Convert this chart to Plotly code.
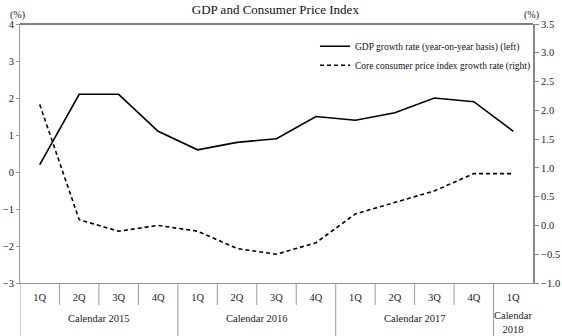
import plotly.graph_objects as go

quarters = ["1Q", "2Q", "3Q", "4Q", "1Q", "2Q", "3Q", "4Q", "1Q", "2Q", "3Q", "4Q", "1Q"]
years = ["Calendar 2015", "Calendar 2016", "Calendar 2017", "Calendar<br>2018"]
year_len = [4, 4, 4, 1]
gdp = [0.2, 2.1, 2.1, 1.1, 0.6, 0.8, 0.9, 1.5, 1.4, 1.6, 2.0, 1.9, 1.1]
cpi = [2.1, 0.1, -0.1, 0.0, -0.1, -0.4, -0.5, -0.3, 0.2, 0.4, 0.6, 0.9, 0.9]

xs = list(range(len(quarters)))
FONT = "Liberation Serif, Times New Roman, serif"

fig = go.Figure()
fig.add_trace(go.Scatter(x=xs, y=gdp, mode="lines", name="GDP growth rate (year-on-year basis) (left)",
                         line=dict(color="black", width=1.6), yaxis="y"))
fig.add_trace(go.Scatter(x=xs, y=cpi, mode="lines", name="Core consumer price index growth rate (right)",
                         line=dict(color="black", width=1.6, dash="4px,3px"), yaxis="y2"))

shapes = []
shapes.append(dict(type="line", xref="paper", yref="paper", x0=0, x1=1, y0=1, y1=1,
                   line=dict(color="black", width=1)))
bounds_year = set()
acc = 0
for n in year_len:
    bounds_year.add(acc)
    acc += n
for b in range(len(quarters)):
    y1 = -0.205 if b in bounds_year else -0.085
    shapes.append(dict(type="line", xref="x", yref="paper", x0=b - 0.5, x1=b - 0.5, y0=0, y1=y1,
                       line=dict(color="#999999", width=1)))

annotations = []
acc = 0
for name, n in zip(years, year_len):
    cx = acc + (n - 1) / 2
    annotations.append(dict(x=cx, y=-0.11 if "<br>" not in name else -0.095, xref="x", yref="paper",
                            text=name, showarrow=False, yanchor="top",
                            font=dict(family=FONT, size=10.5, color="#222")))
    acc += n
annotations.append(dict(x=0, y=1.0, xref="paper", yref="paper", text="(%)", showarrow=False,
                        xanchor="center", yanchor="bottom", xshift=-3, yshift=1,
                        font=dict(family=FONT, size=10, color="#222")))
annotations.append(dict(x=1, y=1.0, xref="paper", yref="paper", text="(%)", showarrow=False,
                        xanchor="center", yanchor="bottom", xshift=-2, yshift=1,
                        font=dict(family=FONT, size=10, color="#222")))

fig.update_layout(
    width=562, height=336,
    margin=dict(l=20, r=29, t=24, b=53),
    paper_bgcolor="white", plot_bgcolor="white",
    title=dict(text="GDP and Consumer Price Index", x=0.49, xanchor="center", y=0.985, yanchor="top",
               font=dict(family=FONT, size=13, color="#111")),
    font=dict(family=FONT, size=10.5, color="#222"),
    showlegend=True,
    legend=dict(x=0.575, y=0.97, xanchor="left", yanchor="top", bgcolor="rgba(0,0,0,0)",
                font=dict(family=FONT, size=9.5, color="#111"), tracegroupgap=2, itemwidth=30),
    xaxis=dict(range=[-0.5, len(quarters) - 0.5], tickmode="array", tickvals=xs, ticktext=quarters,
               showgrid=False, zeroline=False, showline=True, linecolor="#999999", linewidth=1,
               ticks="", tickfont=dict(family=FONT, size=10.5, color="#222"), ticklabelstandoff=4,
               automargin=False),
    yaxis=dict(range=[-3, 4], dtick=1, showgrid=False, zeroline=False, showline=True,
               linecolor="#999999", linewidth=1, ticks="outside", ticklen=3, tickcolor="#999999",
               tickfont=dict(family=FONT, size=10.5, color="#222"), automargin=False),
    yaxis2=dict(range=[-1, 3.5], dtick=0.5, tickformat=".1f", overlaying="y", side="right",
                showgrid=False, zeroline=False, showline=True, linecolor="#888888", linewidth=2,
                ticks="outside", ticklen=4, tickcolor="#888888",
                tickfont=dict(family=FONT, size=10.5, color="#222"), automargin=False),
    shapes=shapes, annotations=annotations,
)

fig.write_html("out.html")
